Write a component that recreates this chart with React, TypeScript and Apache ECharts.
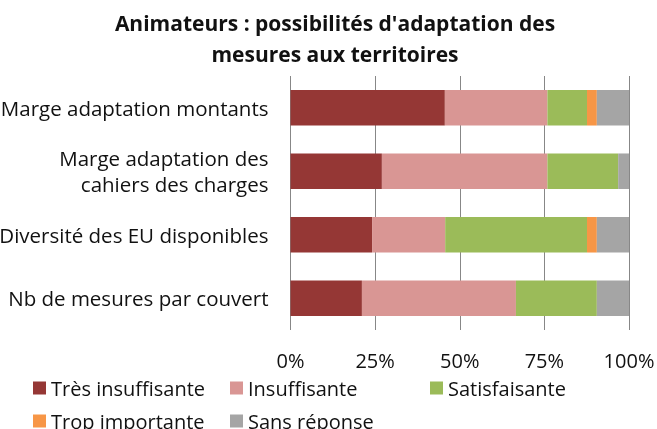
import React, { useEffect, useRef } from "react";
import * as echarts from "echarts";

const titleLines = ["Animateurs : possibilités d'adaptation des", "mesures aux territoires"];
const categories = [
  "Marge adaptation montants",
  "Marge adaptation des\ncahiers des charges",
  "Diversité des EU disponibles",
  "Nb de mesures par couvert",
];
const seriesNames = ["Très insuffisante", "Insuffisante", "Satisfaisante", "Trop importante", "Sans réponse"];
const tresInsuffisante = [45.6, 27.0, 24.1, 21.1];
const insuffisante = [30.3, 48.9, 21.6, 45.5];
const satisfaisante = [11.7, 20.9, 41.9, 23.9];
const tropImportante = [2.9, 0, 2.9, 0];
const sansReponse = [9.5, 3.2, 9.5, 9.5];
const colors = ["#953735", "#D99694", "#9BBB59", "#F79646", "#A5A5A5"];
const xTicks = [0, 25, 50, 75, 100];

const FONT = "'Open Sans', sans-serif";

// legend layout: [series index, left, top]
const legendSlots: [number, number, number][] = [
  [0, 33, 377],
  [1, 230, 377],
  [2, 430, 377],
  [3, 33, 410],
  [4, 230, 410],
];

export default function App() {
  const ref = useRef<HTMLDivElement>(null);
  useEffect(() => {
    if (!ref.current) return;
    const chart = echarts.init(ref.current, undefined, { renderer: "svg" });
    const values = [tresInsuffisante, insuffisante, satisfaisante, tropImportante, sansReponse];
    chart.setOption({
      animation: false,
      color: colors,
      title: {
        text: titleLines.join("\n"),
        left: 335,
        top: 7,
        padding: 0,
        textAlign: "center",
        textStyle: { fontFamily: FONT, fontSize: 21, fontWeight: "bold", color: "#111", lineHeight: 31 },
      },
      legend: legendSlots.map(([i, left, top]) => ({
        orient: "horizontal",
        left,
        top,
        padding: 0,
        itemWidth: 13,
        itemHeight: 13,
        icon: "rect",
        data: [seriesNames[i]],
        textStyle: { fontFamily: FONT, fontSize: 20, color: "#111", lineHeight: 22 },
      })),
      grid: {
        left: 290.5,
        top: 76,
        width: 338.5,
        height: 254,
        containLabel: false,
        outerBoundsMode: "none",
      },
      xAxis: {
        type: "value",
        min: xTicks[0],
        max: xTicks[xTicks.length - 1],
        interval: 25,
        axisLine: { show: false },
        axisTick: { show: false },
        splitLine: { show: true, lineStyle: { color: "#878787", width: 1 } },
        axisLabel: {
          formatter: "{value}%",
          fontFamily: FONT,
          fontSize: 20,
          color: "#111",
          margin: 20,
        },
      },
      yAxis: {
        type: "category",
        inverse: true,
        data: categories,
        axisLine: { show: false },
        axisTick: { show: false },
        axisLabel: {
          fontFamily: FONT,
          fontSize: 20.5,
          color: "#111",
          margin: 22,
          lineHeight: 26,
          align: "right",
        },
      },
      series: seriesNames.map((name, i) => ({
        name,
        type: "bar",
        stack: "total",
        barCategoryGap: "44%",
        data: values[i],
        itemStyle: { color: colors[i] },
      })),
    });
    return () => chart.dispose();
  }, []);
  return <div ref={ref} style={{ position: "fixed", left: 0, top: 0, width: 657, height: 429 }} />;
}
